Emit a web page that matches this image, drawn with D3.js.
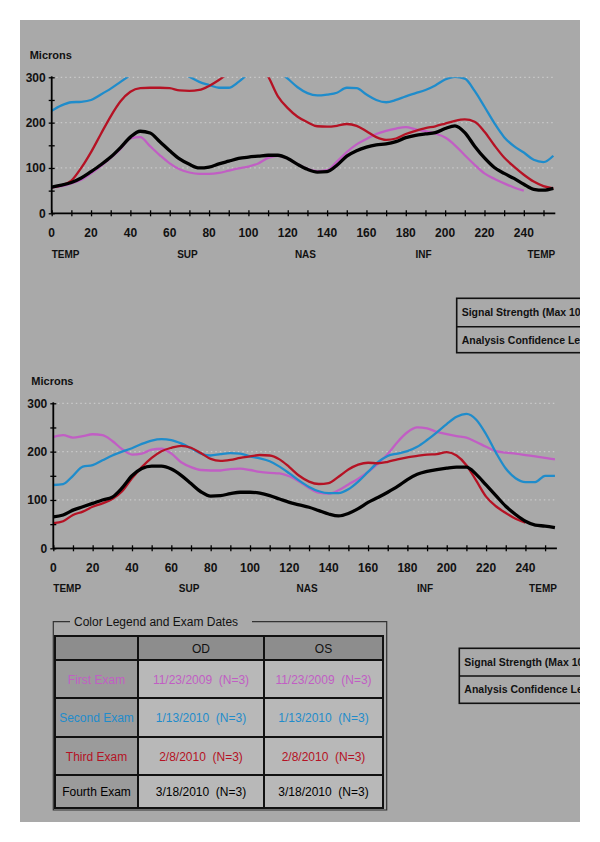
<!DOCTYPE html>
<html><head><meta charset="utf-8">
<script src="https://cdn.jsdelivr.net/npm/d3@7/dist/d3.min.js"></script>
<style>body{margin:0;background:#fff}svg{display:block}text{font-family:"Liberation Sans",Arial,sans-serif}</style>
</head><body><svg id="c" width="600" height="842"></svg>
<script>
// ---- data ----
const xGrid = d3.range(0, 256, 5); // 0..255 step 5
const xTicks = d3.range(0, 257, 10);
const xTickLabels = [0,20,40,60,80,100,120,140,160,180,200,220,240];
const yTicks = [0,50,100,150,200,250,300];
const yTickLabels = [0,100,200,300];
const regionLabels = ["TEMP","SUP","NAS","INF","TEMP"];
const regionPos = [0,69,129,189,256];

// Top chart (OD)
const odFirst  = [57,60,66,74,88,104,122,142,165,168,148,128,110,97,90,87,87,89,94,99,103,110,122,127,121,108,98,93,95,114,135,152,164,175,182,187,190,185,181,176,167,150,128,107,88,76,66,57,50,null,null,null];
const odSecond = [226,238,245,246,250,262,275,290,305,320,330,330,322,312,301,290,283,277,277,290,308,325,330,315,297,278,265,260,262,266,277,276,262,250,245,250,258,265,272,282,295,301,297,270,235,199,168,148,134,118,113,127];
const odThird  = [57,62,72,100,135,175,214,247,268,276,277,277,276,271,270,272,281,294,310,325,335,330,302,258,232,213,201,192,191,193,197,193,181,168,162,165,175,182,188,192,198,204,207,202,180,150,123,103,85,70,60,55];
const odFourth = [58,62,68,78,92,107,124,145,168,181,177,158,138,120,108,100,102,109,115,121,124,126,128,128,121,108,97,91,92,106,126,138,146,151,153,158,167,172,175,178,187,193,178,148,122,101,88,77,64,53,51,55];

// Bottom chart (OS)
const osFirst  = [230,234,229,232,236,234,222,205,194,196,204,206,196,178,168,162,161,161,164,165,162,158,156,155,149,138,125,115,113,120,132,144,158,175,195,220,240,250,248,241,236,232,229,220,210,201,198,196,193,190,187,184];
const osSecond = [131,133,150,169,172,182,192,200,207,216,223,226,224,217,207,196,192,195,197,196,190,186,180,169,155,140,127,118,114,114,122,138,158,178,191,196,201,210,224,240,257,272,278,266,236,198,165,145,137,137,150,150];
const osThird  = [52,56,69,76,86,93,102,118,145,168,187,201,208,212,208,197,185,181,183,187,190,193,192,184,168,150,138,133,135,148,163,173,177,176,179,184,188,191,194,195,199,192,172,140,107,87,73,61,53,null,null,null];
const osFourth = [65,69,79,86,93,100,106,125,150,165,170,170,164,151,134,117,108,109,113,116,116,114,109,102,95,90,85,78,71,67,72,82,95,105,116,128,142,153,159,163,166,168,168,153,131,109,87,70,56,48,46,43];

const examNames = ["First Exam","Second Exam","Third Exam","Fourth Exam"];
const odDates = ["11/23/2009  (N=3)","1/13/2010  (N=3)","2/8/2010  (N=3)","3/18/2010  (N=3)"];
const osDates = ["11/23/2009  (N=3)","1/13/2010  (N=3)","2/8/2010  (N=3)","3/18/2010  (N=3)"];
const colors = ["#c15ec4","#1f8ccb","#b51224","#000000"];
const widths = [2.3,2.3,2.3,3.3];

// ---- drawing ----
const svg = d3.select("#c");
const defs = svg.append("defs");
defs.append("clipPath").attr("id","page").append("rect").attr("x",20).attr("y",20).attr("width",560).attr("height",802);
svg.append("rect").attr("x",20).attr("y",20).attr("width",560).attr("height",802).attr("fill","#a9a9a9");
const root = svg.append("g").attr("clip-path","url(#page)");

function chart(id, x0, x1, yb, yt, series, lab){
  const x = d3.scaleLinear().domain([0,256]).range([x0,x1]);
  const y = d3.scaleLinear().domain([0,300]).range([yb,yt]);
  const g = root.append("g");
  defs.append("clipPath").attr("id",id).append("rect")
    .attr("x",x0).attr("y",yt).attr("width",x1-x0+4).attr("height",yb-yt+4);
  // grid
  g.selectAll(".grid").data([100,200,300]).enter().append("line")
    .attr("x1",x(0)).attr("x2",x(256)).attr("y1",d=>y(d)).attr("y2",d=>y(d))
    .attr("stroke","#c9c9c9").attr("stroke-width",1.2).attr("stroke-dasharray","1.5,3");
  // series
  const line = d3.line().defined(d=>d[1]!=null).x(d=>x(d[0])).y(d=>y(d[1])).curve(d3.curveMonotoneX);
  const sg = g.append("g").attr("clip-path",`url(#${id})`);
  series.forEach((s,i)=>{
    sg.append("path").datum(xGrid.map((xv,k)=>[xv,s[k]]))
      .attr("d",line).attr("fill","none").attr("stroke",colors[i]).attr("stroke-width",widths[i])
      .attr("stroke-linejoin","round");
  });
  // axes
  const ax = d3.axisBottom(x).tickValues(xTicks).tickSize(6).tickFormat("");
  const xa = g.append("g").attr("transform",`translate(0,${yb+3})`).call(ax);
  xa.select(".domain").remove();
  xa.selectAll("line").attr("stroke","#000").attr("stroke-width",1.3).attr("y1",-6).attr("y2",0);
  g.append("line").attr("x1",x(0)).attr("x2",x(256)).attr("y1",yb).attr("y2",yb).attr("stroke","#000").attr("stroke-width",1.8);
  const ay = d3.axisLeft(y).tickValues(yTicks).tickSize(6).tickFormat("");
  const ya = g.append("g").attr("transform",`translate(${x0+3},0)`).call(ay);
  ya.select(".domain").remove();
  ya.selectAll("line").attr("stroke","#000").attr("stroke-width",1.3);
  g.append("line").attr("x1",x0).attr("x2",x0).attr("y1",yb).attr("y2",yt-1).attr("stroke","#000").attr("stroke-width",1.8);
  // labels
  g.selectAll(".xl").data(xTickLabels).enter().append("text")
    .attr("x",d=>x(d)).attr("y",yb+24).attr("text-anchor","middle")
    .attr("font-size",12).attr("font-weight","bold").attr("fill","#111").text(d=>d);
  g.selectAll(".yl").data(yTickLabels).enter().append("text")
    .attr("x",x0-6).attr("y",d=>y(d)+4.5).attr("text-anchor","end")
    .attr("font-size",12).attr("font-weight","bold").attr("fill","#111").text(d=>d);
  g.selectAll(".rl").data(regionLabels).enter().append("text")
    .attr("x",(d,i)=>x(regionPos[i])).attr("y",yb+lab)
    .attr("text-anchor",(d,i)=>i===0?"start":(i===4?"end":"middle"))
    .attr("font-size",10).attr("font-weight","bold").attr("fill","#111").text(d=>d);
  g.append("text").attr("x",x0-22).attr("y",yt-18).attr("font-size",11).attr("font-weight","bold").attr("fill","#111").text("Microns");
}
chart("c1", 51.7, 555.3, 213.3, 77.3, [odFirst,odSecond,odThird,odFourth], 45);
chart("c2", 53.3, 556.9, 548.3, 403.3, [osFirst,osSecond,osThird,osFourth], 44);

// side boxes
function sideBox(x, yTop, yMid, yBot, t1, t2){
  const g = root.append("g");
  g.append("rect").attr("x",x).attr("y",yTop).attr("width",200).attr("height",yBot-yTop).attr("fill","none").attr("stroke","#111").attr("stroke-width",1.6);
  g.append("line").attr("x1",x).attr("x2",x+200).attr("y1",yMid).attr("y2",yMid).attr("stroke","#111").attr("stroke-width",1.6);
  g.append("text").attr("x",x+5).attr("y",(yTop+yMid)/2+3.8).attr("font-size",10.5).attr("font-weight","bold").attr("fill","#111").text(t1);
  g.append("text").attr("x",x+5).attr("y",(yMid+yBot)/2+3.8).attr("font-size",10.5).attr("font-weight","bold").attr("fill","#111").text(t2);
}
sideBox(456.7, 298.3, 326.7, 352.7, "Signal Strength (Max 10)", "Analysis Confidence Level");
sideBox(459.3, 648.3, 676, 703.3, "Signal Strength (Max 10)", "Analysis Confidence Level");

// legend table
const tg = root.append("g");
tg.append("path").attr("d","M70,621.7 H53.3 V810 H386.7 V621.7 H252").attr("fill","none").attr("stroke","#333").attr("stroke-width",1.2);
tg.append("text").attr("x",74).attr("y",626).attr("font-size",12).attr("fill","#111").text("Color Legend and Exam Dates");
const cols = [55,138,264,383];
const rows = [636,660,698,737,775,808];
const cellFill = (r,c)=> r===0 ? "#8d8d8d" : (c===0 ? "#9b9b9b" : "#b8b8b8");
for(let r=0;r<5;r++) for(let c=0;c<3;c++){
  tg.append("rect").attr("x",cols[c]).attr("y",rows[r]).attr("width",cols[c+1]-cols[c]).attr("height",rows[r+1]-rows[r])
    .attr("fill",cellFill(r,c)).attr("stroke","#111").attr("stroke-width",2);
}
const txt = (x,y,s,col)=>tg.append("text").attr("x",x).attr("y",y).attr("text-anchor","middle").attr("font-size",12)
  .attr("fill",col).style("white-space","pre").text(s);
txt((cols[1]+cols[2])/2,(rows[0]+rows[1])/2+4.5,"OD","#111");
txt((cols[2]+cols[3])/2,(rows[0]+rows[1])/2+4.5,"OS","#111");
examNames.forEach((n,i)=>{
  const cy=(rows[i+1]+rows[i+2])/2+4.5;
  txt((cols[0]+cols[1])/2,cy,n,colors[i]);
  txt((cols[1]+cols[2])/2,cy,odDates[i],colors[i]);
  txt((cols[2]+cols[3])/2,cy,osDates[i],colors[i]);
});
</script></body></html>
